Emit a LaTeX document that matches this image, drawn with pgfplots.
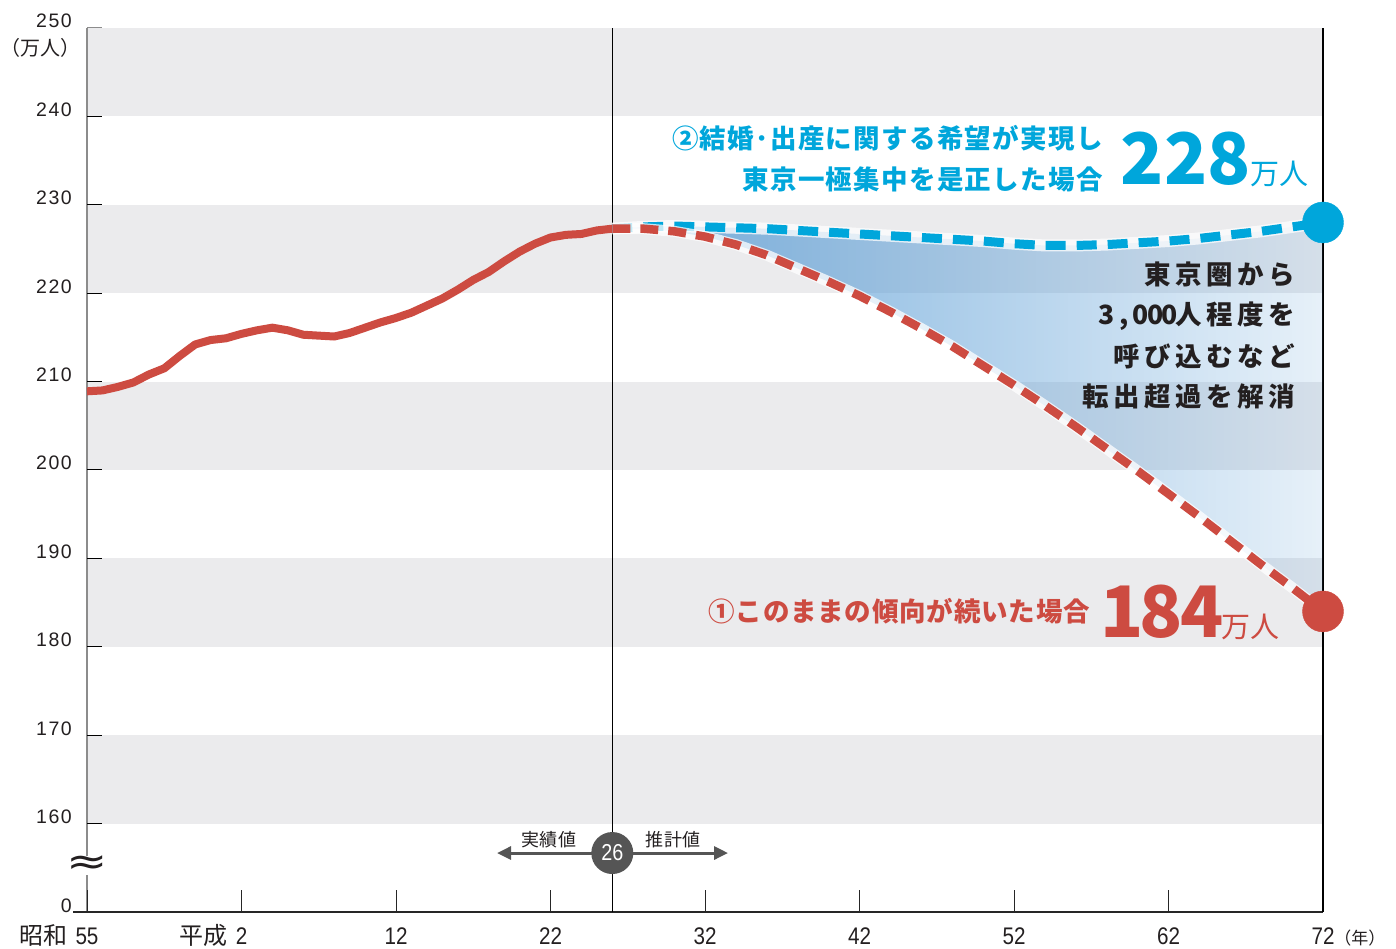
\documentclass[border=0pt]{standalone}
\usepackage{fontspec}
\usepackage{pgfplots}
\usepackage{pgfplotstable}
\pgfplotsset{compat=1.18}
\usepgfplotslibrary{fillbetween}
\usetikzlibrary{arrows.meta,fadings}

\setmainfont{Noto Sans CJK JP}
\newfontfamily\jpspaced{Noto Sans CJK JP}[LetterSpace=17]
\newfontfamily\jplight{Noto Sans CJK JP}[LetterSpace=5]
\newfontfamily\jpsmall{Noto Sans CJK JP}[LetterSpace=3]
\newfontfamily\numfont{Liberation Sans}[FakeStretch=0.86]
\newfontfamily\numwide{Liberation Sans}[LetterSpace=8]
\newfontfamily\symfont{DejaVu Sans}

\definecolor{band}{HTML}{EBEBED}
\definecolor{popred}{HTML}{CD4B41}
\definecolor{popblue}{HTML}{00A6DB}
\definecolor{inktext}{HTML}{231F20}
\definecolor{markgray}{HTML}{555555}
\definecolor{axisgray}{HTML}{8C8C8C}
\definecolor{gapblue}{HTML}{5E9FD6}

\tikzfading[name=gapfade, left color=transparent!15, right color=transparent!85]

% 東京圏人口（実績）
\pgfplotstableread{
year pop
1980 208.9
1981 209.0
1982 209.4
1983 209.9
1984 210.8
1985 211.5
1986 212.9
1987 214.2
1988 214.7
1989 214.9
1990 215.4
1991 215.8
1992 216.1
1993 215.8
1994 215.3
1995 215.2
1996 215.1
1997 215.5
1998 216.1
1999 216.7
2000 217.2
2001 217.8
2002 218.6
2003 219.4
2004 220.4
2005 221.5
2006 222.4
2007 223.6
2008 224.7
2009 225.6
2010 226.3
2011 226.6
2012 226.7
2013 227.1
2014 227.3
}\actualdata

% ① このままの傾向が続いた場合
\pgfplotstableread{
year pop
2014 227.3
2016 227.3
2018 227.0
2020 226.4
2022 225.5
2024 224.3
2026 222.8
2028 221.3
2030 219.7
2032 217.9
2034 216.0
2036 214.0
2038 211.8
2040 209.6
2042 207.3
2044 204.9
2046 202.4
2048 199.9
2050 197.3
2052 194.7
2054 192.0
2056 189.3
2058 186.7
2060 184.0
}\trenddata

% ② 希望が実現し一極集中を是正した場合
\pgfplotstableread{
year pop
2014 227.3
2016 227.5
2018 227.6
2020 227.5
2022 227.4
2024 227.3
2026 227.1
2028 226.9
2030 226.7
2032 226.5
2034 226.3
2036 226.1
2038 225.9
2040 225.6
2042 225.4
2044 225.4
2046 225.5
2048 225.7
2050 225.9
2052 226.2
2054 226.6
2056 227.0
2058 227.5
2060 228.0
}\policydata

\begin{document}
\begin{tikzpicture}
\begin{axis}[
  at={(0pt,0pt)}, anchor=south west,
  scale only axis, width=1236pt, height=884pt,
  xmin=1980, xmax=2060, ymin=150, ymax=250,
  clip=false,
  axis line style={draw=none},
  tick style={draw=none},
  /pgf/number format/assume math mode=true,
  xtick={1980,1990,...,2060},
  xticklabels={
    \llap{{\rmfamily\fontsize{24}{24}\selectfont 昭和}\hspace{8pt}}55,
    \llap{{\rmfamily\fontsize{24}{24}\selectfont 平成}\hspace{8pt}}2,
    12,22,32,42,52,62,
    72\rlap{\rmfamily\fontsize{17}{17}\selectfont （年）}},
  xticklabel style={font=\numfont\fontsize{24}{24}\selectfont, text=inktext,
    anchor=base, inner sep=0pt, yshift=-32.5pt},
  ytick={150,160,...,250},
  yticklabels={0,160,170,180,190,200,210,220,230,240,250},
  yticklabel style={font=\numwide\fontsize{19.5}{19.5}\selectfont, text=inktext,
    anchor=base east, inner sep=0pt, xshift=-15pt},
]
% alternating horizontal bands
\fill[band] (axis cs:1980,240) rectangle (axis cs:2060,250);
\fill[band] (axis cs:1980,220) rectangle (axis cs:2060,230);
\fill[band] (axis cs:1980,200) rectangle (axis cs:2060,210);
\fill[band] (axis cs:1980,180) rectangle (axis cs:2060,190);
\fill[band] (axis cs:1980,160) rectangle (axis cs:2060,170);

% frame lines and ticks
\draw[axisgray, line width=1.5pt] (axis cs:1980,150) -- (axis cs:1980,250);
\draw[black!85, line width=1.3pt] ([xshift=-14pt]axis cs:1980,150) -- (axis cs:2060,150);
\draw[black, line width=1.2pt] (axis cs:2060,150) -- (axis cs:2060,250);
\draw[axisgray, line width=1pt] (axis cs:1980,250) -- ++(15pt,0pt);
\pgfplotsinvokeforeach{160,170,...,240}{
  \draw[black, line width=1pt] (axis cs:1980,#1) -- ++(15pt,0pt);
}
\pgfplotsinvokeforeach{1980,1990,...,2050}{
  \draw[black!85, line width=1pt] (axis cs:#1,150) -- ++(0pt,22pt);
}

% gap between the two projections
\addplot[draw=none, name path=policyP] table[x=year, y=pop] {\policydata};
\addplot[draw=none, name path=trendP] table[x=year, y=pop] {\trenddata};
\addplot[fill=gapblue, path fading=gapfade] fill between[of=policyP and trendP, on layer=main];

% 2014 divider
\draw[black, line width=1.2pt] (axis cs:2014,150) -- (axis cs:2014,250);

% actual population
\addplot[popred, line width=8pt, line join=round] table[x=year, y=pop] {\actualdata};

% projections
\addplot[white, opacity=0.75, line width=12pt] table[x=year, y=pop] {\policydata};
\addplot[popblue, line width=9pt, dash pattern=on 20pt off 11pt] table[x=year, y=pop] {\policydata};
\addplot[white, opacity=0.75, line width=11pt] table[x=year, y=pop] {\trenddata};
\addplot[popred, line width=8.5pt, dash pattern=on 18pt off 10pt] table[x=year, y=pop] {\trenddata};

% end points
\addplot[only marks, mark=*, mark size=20.5pt, popblue, mark options={draw=none}] coordinates {(2060,228)};
\addplot[only marks, mark=*, mark size=20.5pt, popred, mark options={draw=none}] coordinates {(2060,184)};

% axis break
\node[fill=white, inner sep=0pt, xscale=1.3, text=inktext, font=\symfont\fontsize{38}{38}\selectfont] at (axis cs:1980,155.3) {≈};
\node[anchor=east, inner sep=0pt, text=inktext, font=\fontsize{20}{20}\selectfont] at ([xshift=-11pt,yshift=-20pt]axis cs:1980,250) {\kern-5pt（万人）\kern-5pt};

% scenario labels
\node[anchor=east, inner sep=0pt, text=popblue, font=\jplight\bfseries\fontsize{26.5}{26.5}\selectfont] at (axis cs:2045.76,237.56) {②結婚･出産に関する希望が実現し};
\node[anchor=east, inner sep=0pt, text=popblue, font=\jplight\bfseries\fontsize{26.5}{26.5}\selectfont] at (axis cs:2045.76,232.9) {東京一極集中を是正した場合};
\node[anchor=base west, inner sep=0pt, text=popblue] at (axis cs:2046.9,232.24) {{\bfseries\fontsize{71}{71}\selectfont 228}{\fontsize{29}{29}\selectfont 万人}};

\node[anchor=east, inner sep=0pt, text=popred, font=\jpsmall\bfseries\fontsize{26.5}{26.5}\selectfont] at (axis cs:2044.92,184.05) {①このままの傾向が続いた場合};
\node[anchor=base west, inner sep=0pt, text=popred] at (axis cs:2045.6,181.0) {{\bfseries\fontsize{71}{71}\selectfont 1\kern-5pt 8\kern-2pt 4}\kern-2pt{\fontsize{29}{29}\selectfont 万人}};

\node[anchor=east, inner sep=0pt, text=inktext, font=\jpspaced\bfseries\fontsize{26.5}{26.5}\selectfont] at (axis cs:2058.19,222.17) {東京圏から};
\node[anchor=east, inner sep=0pt, text=inktext, font=\jpspaced\bfseries\fontsize{26.5}{26.5}\selectfont] at (axis cs:2058.19,217.42) {3{,}0\kern-2pt0\kern-2pt0\kern-2pt人程度を};
\node[anchor=east, inner sep=0pt, text=inktext, font=\jpspaced\bfseries\fontsize{26.5}{26.5}\selectfont] at (axis cs:2058.19,212.90) {呼び込むなど};
\node[anchor=east, inner sep=0pt, text=inktext, font=\jpspaced\bfseries\fontsize{26.5}{26.5}\selectfont] at (axis cs:2058.19,208.37) {転出超過を解消};

% actual / projected marker
\draw[markgray, line width=3pt, {Triangle[length=14pt,width=13pt]}-{Triangle[length=14pt,width=13pt]}] (axis cs:2006.54,156.67) -- (axis cs:2021.49,156.67);
\node[circle, fill=markgray, minimum size=42pt, inner sep=0pt, text=white, font=\numfont\fontsize{23}{23}\selectfont] at (axis cs:2014,156.67) {26};
\node[inner sep=0pt, text=inktext, font=\jpsmall\fontsize{18}{18}\selectfont] at (axis cs:2009.9,158.2) {実績値};
\node[inner sep=0pt, text=inktext, font=\jpsmall\fontsize{18}{18}\selectfont] at (axis cs:2017.93,158.2) {推計値};
\end{axis}
\path (-87pt,-36pt) rectangle (1309pt,912pt);
\end{tikzpicture}
\end{document}
